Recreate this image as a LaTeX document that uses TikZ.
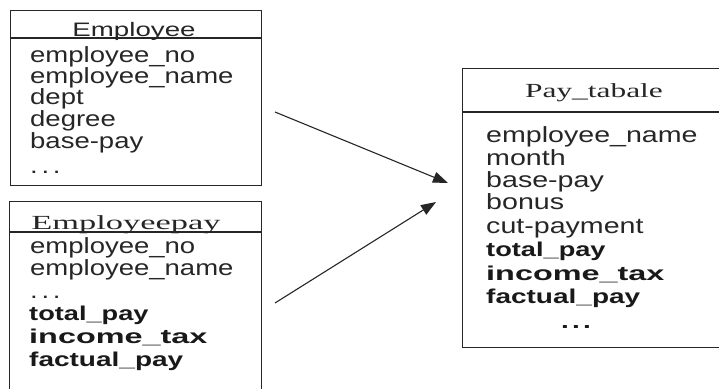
\documentclass[tikz,border=0pt]{standalone}
\usepackage{fontspec}
\setmainfont{Liberation Sans}
\newfontfamily\serf{Liberation Serif}
\usetikzlibrary{arrows.meta}
\newcommand\fst[2]{{\addfontfeature{FakeStretch=#1}#2}}
\begin{document}
\begin{tikzpicture}[x=1pt,y=-1pt,
  tbox/.style={draw=black!85, line width=1.3pt, inner sep=0pt, anchor=north west},
  hline/.style={draw=black!85, line width=1.3pt},
  rowtxt/.style={anchor=base west, inner sep=0pt, font=\fontsize{22}{22}\selectfont, text=black!85},
  boldtxt/.style={anchor=base west, inner sep=0pt, font=\fontsize{20}{20}\selectfont\bfseries, text=black!90},
  ttl/.style={anchor=base, inner sep=0pt, text=black!85},
  arr/.style={draw=black!85, line width=1.1pt, -{Triangle[length=15pt,width=11pt]}}]
\useasboundingbox (0,0) rectangle (719,388);
\clip (0,0) rectangle (719,388);
% Employee
\node[tbox, minimum width=251pt, minimum height=175pt] (emp) at (10,10) {};
\draw[hline] (10,38) -- (261,38);
\node[ttl, font=\fontsize{19.5}{19.5}\selectfont] (empt) at (134,36) {\fst{1.42}{Employee}};
\node[rowtxt] (e1) at (30,62) {\fst{1.25}{employee\_no}};
\node[rowtxt] (e2) at (30,83) {\fst{1.25}{employee\_name}};
\node[rowtxt] (e3) at (30,104) {\fst{1.25}{dept}};
\node[rowtxt] (e4) at (30,126) {\fst{1.25}{degree}};
\node[rowtxt] (e5) at (30,148) {\fst{1.25}{base-pay}};
\node[rowtxt] (e6) at (30,173) {\fst{1.25}{.\,.\,.}};
% Employeepay
\node[tbox, minimum width=252pt, minimum height=210pt] (epay) at (9,201) {};
\draw[hline] (9,232) -- (261,232);
\node[ttl, font=\fontsize{20}{20}\serf] (ept) at (126,229) {\fst{1.72}{Employeepay}};
\node[rowtxt] (p1) at (30,253) {\fst{1.25}{employee\_no}};
\node[rowtxt] (p2) at (30,275) {\fst{1.25}{employee\_name}};
\node[rowtxt] (p3) at (30,298) {\fst{1.25}{.\,.\,.}};
\node[boldtxt] (p4) at (29,320) {\fst{1.36}{total\_pay}};
\node[boldtxt] (p5) at (29,343) {\fst{1.62}{income\_tax}};
\node[boldtxt] (p6) at (29,366) {\fst{1.4}{factual\_pay}};
% Pay_tabale
\node[tbox, minimum width=280pt, minimum height=279pt] (pay) at (462,68) {};
\draw[hline] (462,112) -- (740,112);
\node[ttl, font=\fontsize{20}{20}\serf] (payt) at (594,97) {\fst{1.57}{Pay\_tabale}};
\node[rowtxt] (q1) at (486,142) {\fst{1.3}{employee\_name}};
\node[rowtxt] (q2) at (486,165) {\fst{1.3}{month}};
\node[rowtxt] (q3) at (486,187) {\fst{1.3}{base-pay}};
\node[rowtxt] (q4) at (486,209) {\fst{1.3}{bonus}};
\node[rowtxt] (q5) at (486,233) {\fst{1.3}{cut-payment}};
\node[boldtxt] (q6) at (486,256) {\fst{1.36}{total\_pay}};
\node[boldtxt] (q7) at (486,280) {\fst{1.62}{income\_tax}};
\node[boldtxt] (q8) at (486,303) {\fst{1.4}{factual\_pay}};
\node[boldtxt, anchor=base] (q9) at (576,328) {\fst{1.4}{.\,.\,.}};
% arrows
\coordinate (a1s) at (275,112);
\coordinate (a1e) at (448,183);
\coordinate (a2s) at (275,303);
\coordinate (a2e) at (436,202);
\draw[arr] (a1s) -- (a1e);
\draw[arr] (a2s) -- (a2e);
\end{tikzpicture}
\end{document}
